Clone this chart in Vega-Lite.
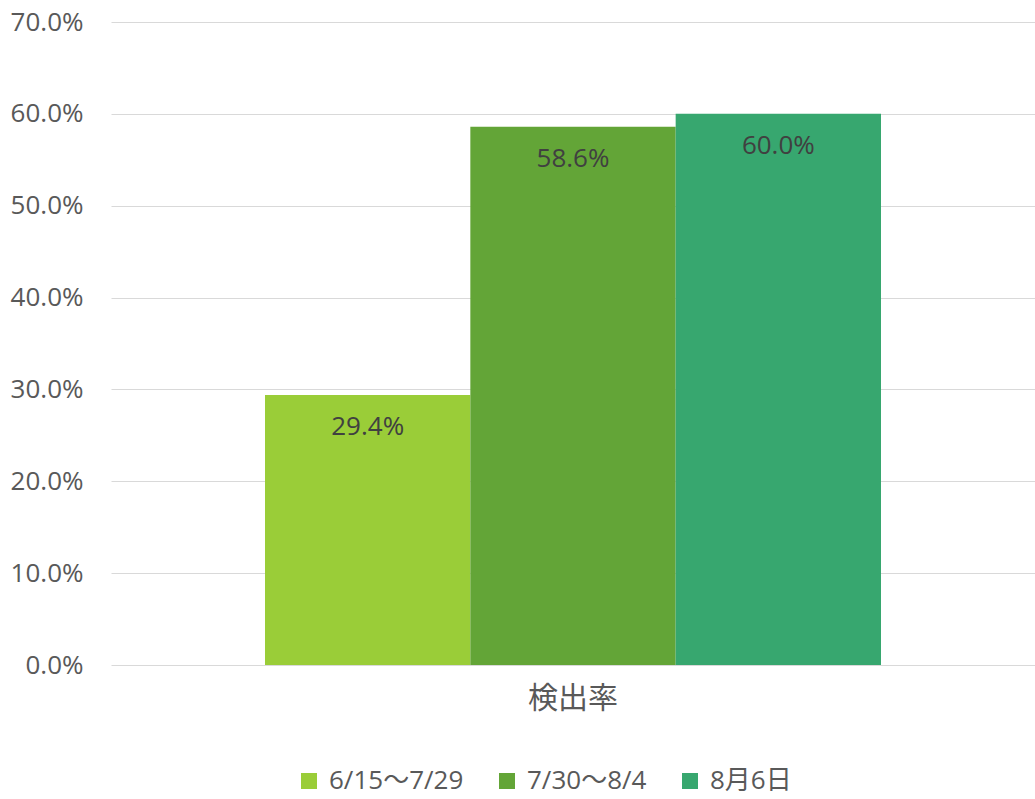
{
  "$schema": "https://vega.github.io/schema/vega-lite/v6.json",
  "autosize": "none",
  "width": 924,
  "height": 643,
  "padding": {"left": 111, "top": 22, "right": 0, "bottom": 134},
  "background": "white",
  "config": {
    "view": {"stroke": null},
    "font": "Open Sans, Noto Sans CJK JP",
    "axis": {"labelFont": "Open Sans, Noto Sans CJK JP", "labelColor": "#595959"}
  },
  "data": {
    "values": [
      {"category": "検出率", "series": "6/15～7/29", "value": 0.294},
      {"category": "検出率", "series": "7/30～8/4", "value": 0.586},
      {"category": "検出率", "series": "8月6日", "value": 0.600}
    ]
  },
  "encoding": {
    "x": {
      "field": "category",
      "type": "nominal",
      "scale": {"paddingInner": 0, "paddingOuter": 0.25},
      "axis": {"title": null, "labelAngle": 0, "ticks": false, "domain": false, "labelFontSize": 30, "labelPadding": 18, "labelFont": "Noto Sans CJK JP"}
    },
    "xOffset": {
      "field": "series",
      "type": "nominal",
      "sort": ["6/15～7/29", "7/30～8/4", "8月6日"],
      "scale": {"paddingInner": 0, "paddingOuter": 0}
    },
    "y": {
      "field": "value",
      "type": "quantitative",
      "scale": {"domain": [0, 0.7]},
      "axis": {"title": null, "format": ".1%", "values": [0, 0.1, 0.2, 0.3, 0.4, 0.5, 0.6, 0.7], "labelOverlap": false, "labelFlush": false, "ticks": false, "domain": false, "labelFontSize": 26, "labelPadding": 28, "gridColor": "#d9d9d9", "gridWidth": 1}
    }
  },
  "layer": [
    {
      "mark": {"type": "bar"},
      "encoding": {
        "color": {
          "field": "series",
          "type": "nominal",
          "sort": ["6/15～7/29", "7/30～8/4", "8月6日"],
          "scale": {"domain": ["6/15～7/29", "7/30～8/4", "8月6日"], "range": ["#9acd38", "#63a537", "#37a76f"]},
          "legend": {
            "title": null,
            "orient": "none",
            "direction": "horizontal",
            "legendX": 185,
            "legendY": 746,
            "symbolType": "square",
            "symbolSize": 256,
            "symbolStrokeWidth": 0,
            "labelFontSize": 26,
            "labelColor": "#595959",
            "labelFont": "Open Sans, Noto Sans CJK JP",
            "columnPadding": 30,
            "labelOffset": 7
          }
        }
      }
    },
    {
      "mark": {"type": "text", "baseline": "middle", "dy": 32, "fontSize": 26, "color": "#404040", "font": "Open Sans, Noto Sans CJK JP"},
      "encoding": {
        "text": {"field": "value", "type": "quantitative", "format": ".1%"}
      }
    }
  ]
}
